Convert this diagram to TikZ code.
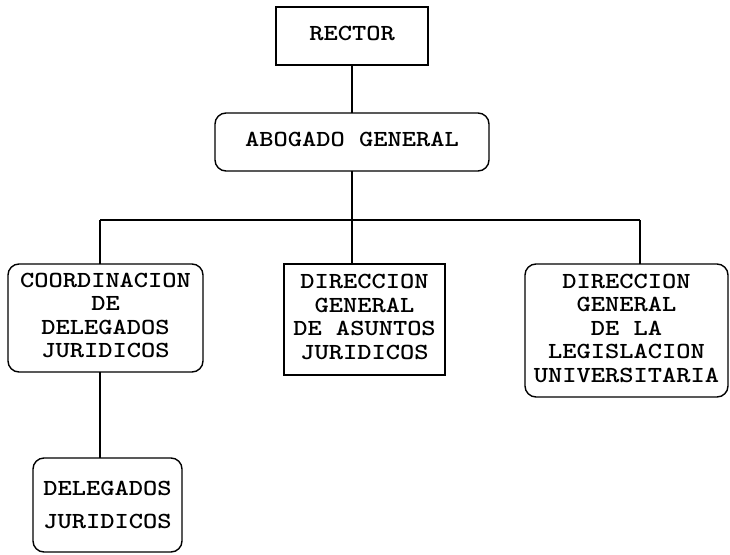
\documentclass[tikz,border=0pt]{standalone}
\usepackage{graphicx}
\newcommand{\tline}[2][1]{\scalebox{1.18}[1]{\renewcommand{\arraystretch}{#1}\begin{tabular}{@{}c@{}}#2\end{tabular}}}
\begin{document}
\begin{tikzpicture}[x=1pt,y=-1pt,
  every node/.style={inner sep=0pt, outer sep=0pt, font=\ttfamily\bfseries\fontsize{23}{23.5}\selectfont},
  sqbox/.style={draw, line width=1.4pt, rectangle},
  rbox/.style={draw, line width=1.4pt, rectangle, rounded corners=11pt},
  conn/.style={line width=1.4pt}]
\useasboundingbox (0,0) rectangle (730,554);
\node[sqbox, minimum width=152pt, minimum height=58pt] (rector) at (352,36) {\tline{RECTOR}};
\node[rbox, minimum width=274pt, minimum height=58pt] (abog) at (352,142) {\tline{ABOGADO GENERAL}};
\node[rbox, minimum width=195pt, minimum height=108pt] (coord) at (105.5,318) {\tline{COORDINACION\\DE\\DELEGADOS\\JURIDICOS}};
\node[sqbox, minimum width=161pt, minimum height=111pt] (dir) at (364.5,319.5) {\tline{DIRECCION\\GENERAL\\DE ASUNTOS\\JURIDICOS}};
\node[rbox, minimum width=203pt, minimum height=133pt] (leg) at (626.5,330.5) {\tline{DIRECCION\\GENERAL\\DE LA\\LEGISLACION\\UNIVERSITARIA}};
\node[rbox, minimum width=149pt, minimum height=94pt] (deleg) at (107.5,505) {\tline[1.4]{DELEGADOS\\JURIDICOS}};
\coordinate (bl) at (100,220);
\coordinate (br) at (640,220);
\draw[conn] (rector.south) -- (abog.north);
\draw[conn] (abog.south) -- (abog.south |- dir.north);
\draw[conn] (bl) -- (br);
\draw[conn] (bl) -- (bl |- coord.north);
\draw[conn] (br) -- (br |- leg.north);
\draw[conn] (bl |- coord.south) -- (bl |- deleg.north);
\end{tikzpicture}
\end{document}
